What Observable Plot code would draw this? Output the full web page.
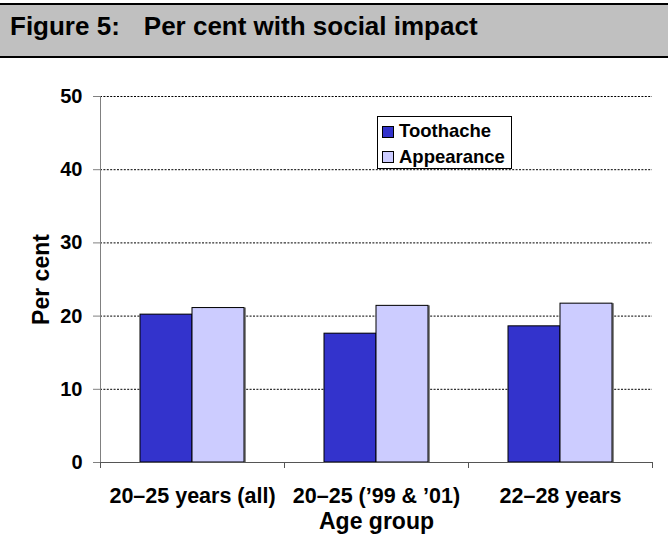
<!DOCTYPE html>
<html>
<head>
<meta charset="utf-8">
<script src="https://cdn.jsdelivr.net/npm/d3@7"></script>
<script src="https://cdn.jsdelivr.net/npm/@observablehq/plot@0.6"></script>
<style>
  html, body { margin: 0; padding: 0; background: white; }
  #title {
    margin-top: 3px;
    height: 51px;
    border-top: 2px solid black;
    border-bottom: 2px solid black;
    background: #c0c0c0;
    position: relative;
    font-family: "Liberation Sans", Arial, sans-serif;
    font-weight: bold;
    font-size: 26px;
    white-space: pre;
  }
  #title span.t { position: absolute; left: 10px; top: 8.4px; line-height: 26px; }
  #chart svg { display: block; }
</style>
</head>
<body>
<div id="title"><span class="t">Figure 5:<span style="margin-left:24px">Per cent with social impact</span></span></div>
<div id="chart"></div>
<script>
const categories = ["20–25 years (all)", "20–25 (’99 & ’01)", "22–28 years"];
const series = ["Toothache", "Appearance"];
const toothache = [20.2, 17.6, 18.6];
const appearance = [21.1, 21.4, 21.7];
const yTicks = [0, 10, 20, 30, 40, 50];
const colors = ["#3333CC", "#CCCCFF"];

const data = categories.flatMap((c, i) => [
  {cat: c, series: series[0], value: toothache[i]},
  {cat: c, series: series[1], value: appearance[i]}
]);

const font = "Liberation Sans, Arial, sans-serif";
const plot = Plot.plot({
  width: 668,
  height: 493,
  marginTop: 38,
  marginBottom: 89,
  marginLeft: 100,
  marginRight: 16,
  style: {fontFamily: font, fontWeight: "bold", fontSize: "20px", color: "black", background: "white", overflow: "visible"},
  fx: {domain: categories, padding: 0, label: null},
  x: {domain: series, paddingInner: 0, paddingOuter: 0.752, axis: null},
  y: {domain: [0, 50], label: null},
  color: {domain: series, range: colors},
  marks: [
    Plot.gridY(yTicks.slice(1), {stroke: "black", strokeOpacity: 1, strokeDasharray: "2,1.4"}),
    Plot.barY(data, {fx: "cat", x: "series", y: "value", fill: "#8a8a8a", dx: 2}),
    Plot.barY(data, {fx: "cat", x: "series", y: "value", fill: "series", stroke: "black", strokeWidth: 1}),
    Plot.ruleY([0], {stroke: "#555"}),
    Plot.axisY({ticks: yTicks, tickSize: 7, tickPadding: 11, stroke: "#808080", fontSize: 20, fontWeight: "bold",
      label: null}),
    Plot.axisY({ticks: [], tickSize: 0, fontSize: 23, fontWeight: "bold",
      label: "Per cent", labelArrow: "none", labelAnchor: "center", labelOffset: 68}),
    Plot.axisFx({anchor: "bottom", tickSize: 0, tickPadding: 25, fontSize: 21.5, fontWeight: "bold",
      label: null}),
    Plot.axisFx({anchor: "bottom", ticks: [], tickSize: 0, fontSize: 23, fontWeight: "bold",
      label: "Age group", labelAnchor: "center", labelOffset: 66})
  ]
});

const svg = d3.select(plot);
const y = plot.scale("y");
const fx = plot.scale("fx");
const g = svg.append("g");
// y axis line
g.append("line").attr("x1", 100.5).attr("x2", 100.5)
  .attr("y1", y.apply(50)).attr("y2", y.apply(0) + 6).attr("stroke", "#808080");
// category boundary ticks
const edges = categories.map(c => fx.apply(c)).concat([fx.apply(categories[categories.length - 1]) + fx.bandwidth]);
edges.forEach(e => {
  g.append("line").attr("x1", e + 0.5).attr("x2", e + 0.5)
    .attr("y1", y.apply(0)).attr("y2", y.apply(0) + 6).attr("stroke", "#555");
});
// legend
const lg = svg.append("g").attr("font-family", font).attr("font-weight", "bold").attr("font-size", 18.5)
  .attr("text-anchor", "start");
lg.append("rect").attr("x", 377.5).attr("y", 58.5).attr("width", 134).attr("height", 52)
  .attr("fill", "white").attr("stroke", "black");
series.forEach((s, i) => {
  lg.append("rect").attr("x", 382.5).attr("y", 68.5 + i * 25).attr("width", 11).attr("height", 11)
    .attr("fill", colors[i]).attr("stroke", "black");
  lg.append("text").attr("x", 399).attr("y", 78.7 + i * 26).text(s);
});

document.getElementById("chart").appendChild(plot);
</script>
</body>
</html>
